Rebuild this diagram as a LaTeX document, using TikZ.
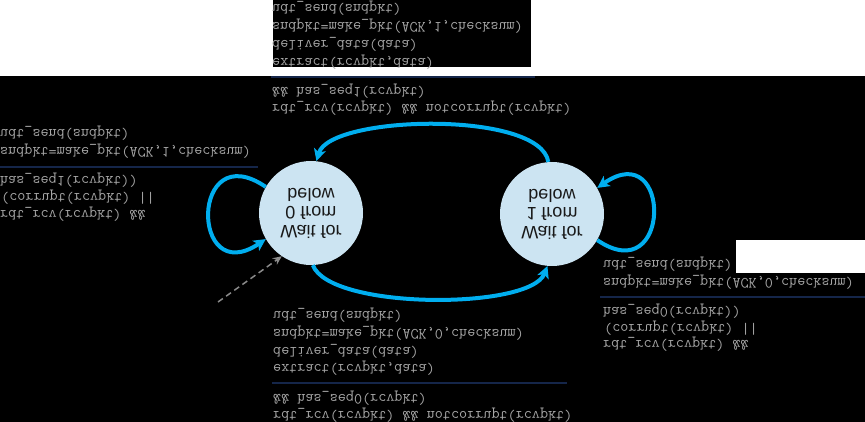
\documentclass[tikz,border=0pt]{standalone}
\usepackage{fontspec}
\setsansfont{Liberation Sans}
\usetikzlibrary{arrows.meta}
\definecolor{tblue}{HTML}{00AEEF}
\definecolor{stfill}{HTML}{CCE4F2}
\definecolor{navyline}{HTML}{15264A}
\definecolor{lblgray}{HTML}{A6A6A6}
\definecolor{dashgray}{HTML}{8A8A8A}
\newcommand{\lblfont}{\ttfamily\fontsize{15.7}{18}\selectfont}
\newcommand{\stfont}{\sffamily\fontsize{18}{18.5}\selectfont}
\begin{document}
\begin{tikzpicture}[x=1pt,y=1pt,
  lbl/.style={anchor=mid west, inner sep=0pt, font=\lblfont, text=lblgray, transform shape},
  sepline/.style={draw=navyline, line width=2pt},
  state/.style={circle, fill=stfill, minimum size=104pt, inner sep=0pt, align=center, font=\stfont, text=black!90, transform shape},
  trans/.style={draw=tblue, line width=4pt, -{Stealth[length=12pt,width=12pt,inset=3pt]}},
  initarr/.style={draw=dashgray, line width=1.5pt, dash pattern=on 6pt off 4pt, -{Stealth[length=9pt,width=8pt]}}]
\begin{scope}[yscale=-1]
\useasboundingbox (0,0) rectangle (865,422);
\fill[black] (0,0) rectangle (865,422);
\fill[white] (0,0) rectangle (865,76);
\fill[black] (273,0) rectangle (531,67);
\fill[white] (736,240) rectangle (865,273);

% states
\node[state] (L) at (311,213) {Wait for\\0 from\\below};
\node[state] (R) at (552,214) {Wait for\\1 from\\below};

% top label
\node[lbl] (t1) at (272,6.7) {udt\_send(sndpkt)};
\node[lbl] (t2) at (272,25) {sndpkt=make\_pkt(ACK,1,checksum)};
\node[lbl] (t3) at (272,42.7) {deliver\_data(data)};
\node[lbl] (t4) at (272,60.7) {extract(rcvpkt,data)};
\draw[sepline] (271,77) -- (535,77);
\node[lbl] (t5) at (272,90) {\&\& has\_seq1(rcvpkt)};
\node[lbl] (t6) at (272,106.7) {rdt\_rcv(rcvpkt) \&\& notcorrupt(rcvpkt)};

% left label
\node[lbl] (l1) at (0,131.7) {udt\_send(sndpkt)};
\node[lbl] (l2) at (0,149.3) {sndpkt=make\_pkt(ACK,1,checksum)};
\draw[sepline] (0,166.7) -- (258,166.7);
\node[lbl] (l3) at (0,178.3) {has\_seq1(rcvpkt))};
\node[lbl] (l4) at (1,196) {(corrupt(rcvpkt) ||};
\node[lbl] (l5) at (0,213) {rdt\_rcv(rcvpkt) \&\&};

% right label
\node[lbl] (r1) at (603,262.7) {udt\_send(sndpkt)};
\node[lbl] (r2) at (603,280.7) {sndpkt=make\_pkt(ACK,0,checksum)};
\draw[sepline] (600,296.7) -- (865,296.7);
\node[lbl] (r3) at (603,310) {has\_seq0(rcvpkt))};
\node[lbl] (r4) at (604,326.7) {(corrupt(rcvpkt) ||};
\node[lbl] (r5) at (603,342.7) {rdt\_rcv(rcvpkt) \&\&};

% bottom label
\node[lbl] (b1) at (273,314) {udt\_send(sndpkt)};
\node[lbl] (b2) at (273,331.7) {sndpkt=make\_pkt(ACK,0,checksum)};
\node[lbl] (b3) at (273,349.3) {deliver\_data(data)};
\node[lbl] (b4) at (273,366.7) {extract(rcvpkt,data)};
\draw[sepline] (272,382.7) -- (567,382.7);
\node[lbl] (b5) at (273,396.7) {\&\& has\_seq0(rcvpkt)};
\node[lbl] (b6) at (273,413.3) {rdt\_rcv(rcvpkt) \&\& notcorrupt(rcvpkt)};

% transitions
\draw[trans] (R.266) .. controls (540,110) and (330,115) .. (L.276);
\draw[trans] (L.88) .. controls (330,310) and (530,310) .. (R.95);
\draw[trans] (L.210) .. controls (190,135) and (190,290) .. (L.150);
\draw[trans] (R.30) .. controls (672,291) and (672,136) .. (R.330);

% initial
\coordinate (init) at (218,302);
\draw[initarr] (init) -- (L.124);
\end{scope}
\end{tikzpicture}
\end{document}
